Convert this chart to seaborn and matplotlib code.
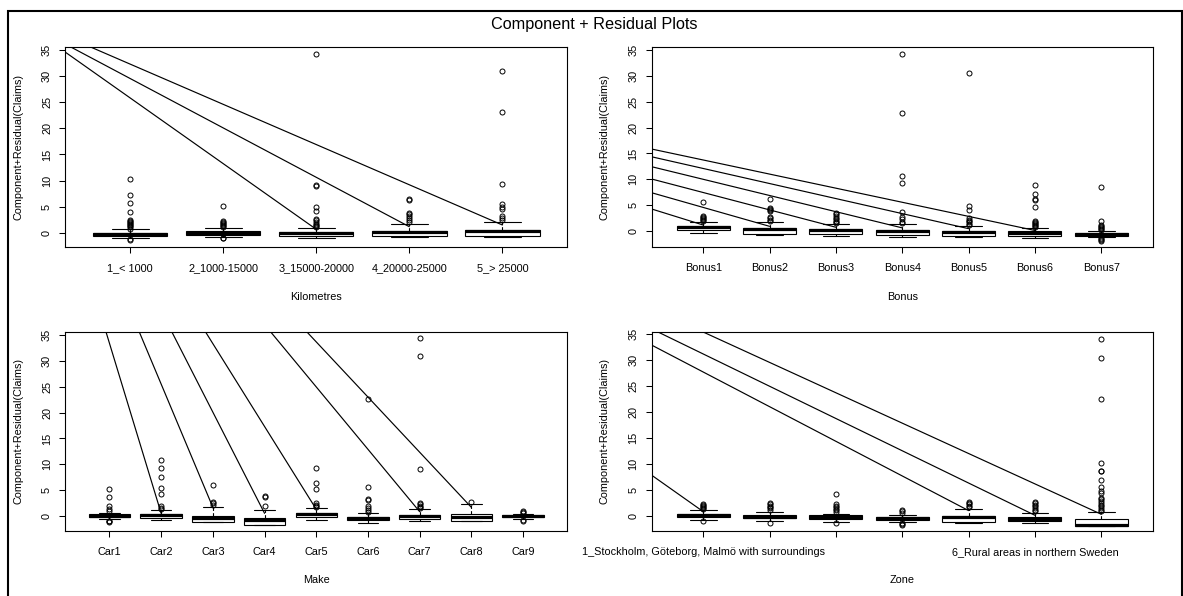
import numpy as np
import pandas as pd
import matplotlib
matplotlib.use("Agg")
import matplotlib.pyplot as plt
import seaborn as sns
from matplotlib.patches import Rectangle

sns.set_theme(style="white")
plt.rcParams['font.family'] = ['Liberation Sans', 'DejaVu Sans']

# ---------------- data ----------------
# Panel 1: Kilometres
km_labels = ["1_< 1000", "2_1000-15000", "3_15000-20000", "4_20000-25000", "5_> 25000"]
km_q1 = [-0.64, -0.44, -0.57, -0.70, -0.70]
km_med = [-0.32, 0.00, -0.13, 0.20, 0.32]
km_q3 = [0.00, 0.33, 0.20, 0.32, 0.51]
km_wlo = [-0.96, -0.89, -1.08, -0.77, -0.75]
km_whi = [0.64, 0.83, 0.96, 1.72, 2.10]
km_fliers = [
    [10.3, 7.2, 5.6, 3.9, 2.4, 2.2, 2.0, 1.8, 1.6, 1.4, 1.2, 1.0, 0.8, -1.28, -1.47],
    [5.05, 2.3, 2.1, 1.9, 1.7, 1.5, 1.3, 1.1, -1.0, -1.1],
    [34.2, 9.2, 9.0, 5.0, 4.1, 2.6, 2.4, 2.0, 1.7, 1.5, 1.3, 1.1],
    [6.4, 6.3, 3.8, 3.5, 3.2, 2.75, 2.4, 2.1],
    [31.0, 23.1, 9.3, 5.5, 5.0, 4.5, 3.2, 2.8, 2.4],
]
km_line_start = [38.4, 39.0, 40.0]
km_line_end_cat = [3, 4, 5]
km_line_end = [0.65, 1.15, 1.48]

# Panel 2: Bonus
bonus_labels = ["Bonus1", "Bonus2", "Bonus3", "Bonus4", "Bonus5", "Bonus6", "Bonus7"]
bonus_q1 = [0.26, -0.50, -0.65, -0.77, -0.90, -0.90, -0.90]
bonus_med = [0.70, 0.40, 0.20, 0.06, -0.20, -0.30, -0.65]
bonus_q3 = [1.03, 0.65, 0.40, 0.26, 0.06, -0.06, -0.45]
bonus_wlo = [-0.40, -0.80, -1.00, -1.20, -1.20, -1.40, -1.22]
bonus_whi = [1.80, 1.70, 1.40, 1.30, 1.00, 0.65, 0.00]
bonus_fliers = [
    [5.67, 2.9, 2.7, 2.5, 2.3, 2.1, 2.0],
    [6.1, 4.5, 4.3, 4.1, 3.9, 2.8, 2.5, 2.2, 1.9],
    [3.5, 3.2, 2.9, 2.6, 2.3, 2.0, 1.8, 1.6],
    [34.2, 22.8, 10.6, 9.2, 3.6, 2.8, 2.3, 1.7, 1.5],
    [30.6, 4.8, 4.0, 2.5, 2.2, 2.0, 1.7, 1.4, 1.2],
    [8.8, 7.2, 6.1, 6.0, 4.7, 2.0, 1.8, 1.6, 1.4, 1.2, 1.0, 0.8],
    [8.45, 2.0, 1.1, 0.9, 0.7, 0.5, 0.3, 0.1, -1.4, -1.6, -1.8, -2.0],
]
bonus_line_start = [5.14, 8.21, 10.8, 13.13, 15.0, 16.46]
bonus_line_end_cat = [1, 2, 3, 4, 5, 6]
bonus_line_end = [1.15, 0.9, 0.72, 0.6, 0.45, 0.1]

# Panel 3: Make
make_labels = ["Car1", "Car2", "Car3", "Car4", "Car5", "Car6", "Car7", "Car8", "Car9"]
make_q1 = [-0.26, -0.45, -1.20, -1.70, -0.20, -0.70, -0.60, -1.00, -0.20]
make_med = [0.00, 0.10, -0.30, -0.85, 0.30, -0.40, 0.00, -0.13, 0.00]
make_q3 = [0.30, 0.45, 0.00, -0.30, 0.65, -0.13, 0.26, 0.45, 0.20]
make_wlo = [-0.65, -0.85, -1.20, -1.70, -0.85, -1.30, -1.00, -1.00, -0.50]
make_whi = [0.65, 1.20, 1.70, 1.15, 1.50, 0.52, 1.35, 2.40, 0.40]
make_fliers = [
    [5.2, 3.7, 1.9, 1.3, 1.0, -0.9, -1.0, -1.1],
    [10.9, 9.3, 7.6, 5.4, 4.3, 1.9, 1.6, 1.3],
    [6.0, 2.7, 2.5, 2.1],
    [3.9, 3.6, 2.0],
    [9.3, 6.4, 5.2, 2.6, 2.2, 1.9, 1.7],
    [22.7, 5.7, 3.3, 3.1, 1.9, 1.5, 1.2, 0.8],
    [34.4, 31.0, 9.1, 2.6, 2.3, 2.0, 1.7, 1.5],
    [2.65],
    [0.9, 0.7, 0.5, -0.8, -1.0],
]
make_line_start = [66.3, 73.2, 78.8, 81.4, 85.3, 87.0]
make_line_end_cat = [2, 3, 4, 5, 7, 8]
make_line_end = [0.52, 1.68, 0.52, 1.3, 0.84, 1.68]

# Panel 4: Zone (only two tick labels are printed)
zone_labels = ["1_Stockholm, Göteborg, Malmö with surroundings", "", "", "", "",
               "6_Rural areas in northern Sweden", ""]
zone_q1 = [-0.06, -0.38, -0.57, -0.76, -1.08, -0.90, -1.80]
zone_med = [0.25, -0.06, -0.19, -0.38, -0.10, -0.50, -1.65]
zone_q3 = [0.51, 0.25, 0.19, -0.06, 0.00, -0.13, -0.54]
zone_wlo = [-0.64, -0.83, -1.02, -1.15, -1.20, -1.30, -1.80]
zone_whi = [1.15, 0.83, 0.51, 0.32, 1.46, 0.64, 0.92]
zone_fliers = [
    [2.4, 2.2, 2.0, 1.8, 1.6, 1.5, -0.9],
    [2.55, 2.3, 2.0, 1.8, 1.6, 1.3, -1.2],
    [4.3, 2.3, 2.0, 1.8, 1.5, 1.2, 0.9, -1.2],
    [1.15, 0.95, 0.7, -1.3, -1.45, -1.6],
    [2.7, 2.5, 2.3, 2.0, 1.8],
    [2.7, 2.5, 2.2, 1.9, 1.6, 1.3, 1.0],
    [33.9, 30.4, 22.4, 10.2, 8.7, 8.6, 7.0, 5.7, 4.8, 4.4, 3.6, 3.3, 3.0, 2.6,
     2.2, 1.9, 1.6, 1.3, 1.1],
]
zone_line_start = [9.87, 34.26, 37.26, 41.1]
zone_line_end_cat = [1, 5, 6, 7]
zone_line_end = [0.9, 1.1, 0.2, 0.4]

title = "Component + Residual Plots"
ylabel = "Component+Residual(Claims)"
yticks = [0, 5, 10, 15, 20, 25, 30, 35]

panels = [
    dict(name="Kilometres", labels=km_labels, q1=km_q1, med=km_med, q3=km_q3,
         wlo=km_wlo, whi=km_whi, fliers=km_fliers, ls=km_line_start,
         lc=km_line_end_cat, le=km_line_end, ylim=(-2.68, 35.63)),
    dict(name="Bonus", labels=bonus_labels, q1=bonus_q1, med=bonus_med, q3=bonus_q3,
         wlo=bonus_wlo, whi=bonus_whi, fliers=bonus_fliers, ls=bonus_line_start,
         lc=bonus_line_end_cat, le=bonus_line_end, ylim=(-3.04, 35.65)),
    dict(name="Make", labels=make_labels, q1=make_q1, med=make_med, q3=make_q3,
         wlo=make_wlo, whi=make_whi, fliers=make_fliers, ls=make_line_start,
         lc=make_line_end_cat, le=make_line_end, ylim=(-2.84, 35.65)),
    dict(name="Zone", labels=zone_labels, q1=zone_q1, med=zone_med, q3=zone_q3,
         wlo=zone_wlo, whi=zone_whi, fliers=zone_fliers, ls=zone_line_start,
         lc=zone_line_end_cat, le=zone_line_end, ylim=(-2.75, 35.35)),
]

# ---------------- figure ----------------
W, H = 1183, 596
fig = plt.figure(figsize=(W / 100, H / 100), dpi=100)
fig.patch.set_facecolor("white")

# axes boxes in pixels: (left, top, right, bottom)
boxes_px = [(65, 46.7, 567.5, 246.7), (651.5, 46.7, 1153, 246.7),
            (65, 331.7, 567.5, 530.7), (651.5, 331.7, 1153, 530.7)]

FS = 7.85
for p, (l, t, r, b) in zip(panels, boxes_px):
    ax = fig.add_axes([l / W, 1 - b / H, (r - l) / W, (b - t) / H])
    n = len(p["labels"])
    pos = np.arange(1, n + 1)

    # straight component lines (seaborn)
    rows = []
    for i, (s, c, e) in enumerate(zip(p["ls"], p["lc"], p["le"])):
        rows.append(dict(line=i, x=0.0, y=s))
        rows.append(dict(line=i, x=float(c), y=e))
    ldf = pd.DataFrame(rows)
    sns.lineplot(data=ldf, x="x", y="y", units="line", estimator=None,
                 color="black", lw=0.85, ax=ax, legend=False, sort=False)

    stats = []
    for i in range(n):
        stats.append(dict(med=p["med"][i], q1=p["q1"][i], q3=p["q3"][i],
                          whislo=p["wlo"][i], whishi=p["whi"][i],
                          fliers=p["fliers"][i]))
    ax.bxp(stats, positions=pos, widths=0.8, patch_artist=True,
           boxprops=dict(facecolor="white", edgecolor="black", lw=0.8),
           medianprops=dict(color="black", lw=2.3, solid_capstyle="butt"),
           whiskerprops=dict(color="black", lw=0.8, ls=(0, (3, 2))),
           capprops=dict(color="black", lw=0.8),
           flierprops=dict(marker="o", markerfacecolor="none",
                           markeredgecolor="black", markersize=3.6,
                           markeredgewidth=0.7),
           manage_ticks=False, zorder=3)

    ax.set_xlim(0.5 - 0.04 * n, n + 0.5 + 0.04 * n)
    ax.set_ylim(*p["ylim"])
    ax.set_xticks(pos)
    ax.set_xticklabels(p["labels"], fontsize=FS)
    ax.set_yticks(yticks)
    ax.set_yticklabels([str(v) for v in yticks], rotation=90, va="center",
                       fontsize=FS)
    ax.tick_params(axis="both", which="both", bottom=True, left=True,
                   direction="out", length=4.3, width=0.75, color="black",
                   labelcolor="black")
    ax.tick_params(axis="x", pad=7.5)
    ax.tick_params(axis="y", pad=5.0)
    for sp in ax.spines.values():
        sp.set_color("black")
        sp.set_linewidth(0.8)
    ax.set_xlabel(p["name"], fontsize=FS, color="black")
    ax.xaxis.set_label_coords(0.5, -0.25)
    ax.xaxis.label.set_va("center")
    ax.set_ylabel(ylabel, fontsize=FS, color="black")
    ax.yaxis.set_label_coords(-0.093, 0.5)
    ax.yaxis.label.set_va("center")
    ax.grid(False)

fig.text(594.7 / W, 1 - 25 / H, title, ha="center", va="center",
         fontsize=11.7, color="black")

fig.patches.append(Rectangle((8.4 / W, -0.1), (1182 - 8.4) / W, 1.1 - 10.7 / H,
                             transform=fig.transFigure, fill=False,
                             edgecolor="black", lw=1.5, clip_on=False))

fig.savefig("out.png", dpi=100, facecolor="white")
